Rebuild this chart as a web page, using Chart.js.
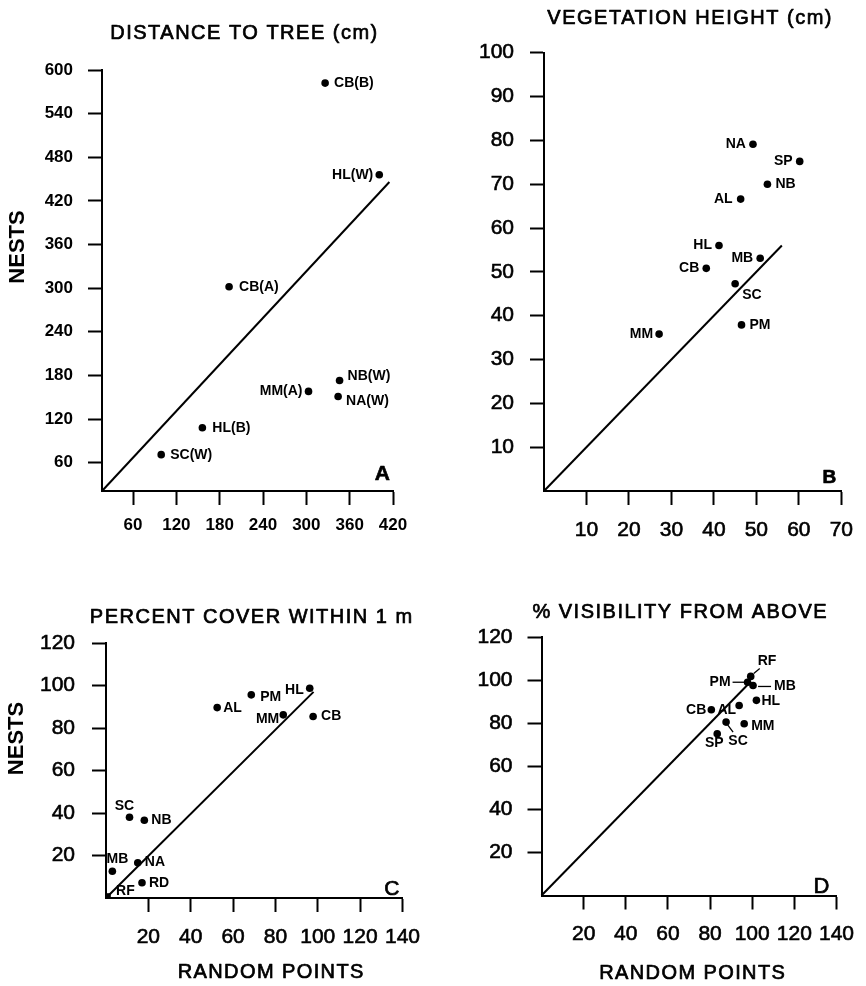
<!DOCTYPE html>
<html>
<head>
<meta charset="utf-8">
<script src="https://cdn.jsdelivr.net/npm/chart.js@4.4.1/dist/chart.umd.min.js"></script>
<style>
  body { margin: 0; background: #fff; }
  #wrap { position: relative; width: 866px; height: 986px; background: #fff; }
  canvas { position: absolute; }
</style>
</head>
<body>
<div id="wrap">
  <canvas id="chartA" width="433" height="560" style="left:0;top:0"></canvas>
  <canvas id="chartB" width="433" height="560" style="left:433px;top:0"></canvas>
  <canvas id="chartC" width="433" height="426" style="left:0;top:560px"></canvas>
  <canvas id="chartD" width="433" height="426" style="left:433px;top:560px"></canvas>
</div>
<script>
// ---- data ----
// A: distance to tree (cm)
var sitesA  = ['CB(B)', 'HL(W)', 'CB(A)', 'MM(A)', 'NB(W)', 'NA(W)', 'HL(B)', 'SC(W)'];
var randomA = [326, 401, 193, 303, 346, 344, 156, 99];
var nestsA  = [582, 456, 302, 158, 173, 151, 108, 71];
var lineAX  = [17, 415];
var lineAY  = [21, 446];
var ticksAX = [60, 120, 180, 240, 300, 360, 420];
var ticksAY = [60, 120, 180, 240, 300, 360, 420, 480, 540, 600];

// B: vegetation height (cm)
var sitesB  = ['NA', 'SP', 'NB', 'AL', 'HL', 'MB', 'CB', 'SC', 'PM', 'MM'];
var randomB = [49.2, 60.2, 52.6, 46.3, 41.2, 50.9, 38.2, 45.0, 46.5, 27.1];
var nestsB  = [79.1, 75.2, 70.0, 66.6, 56.0, 53.1, 50.8, 47.3, 37.9, 35.8];
var lineBX  = [0, 56];
var lineBY  = [0, 56];
var ticksBX = [10, 20, 30, 40, 50, 60, 70];
var ticksBY = [10, 20, 30, 40, 50, 60, 70, 80, 90, 100];

// C: percent cover within 1 m
var sitesC  = ['HL', 'PM', 'AL', 'MM', 'CB', 'SC', 'NB', 'MB', 'NA', 'RD', 'RF'];
var randomC = [96.2, 68.6, 52.5, 83.7, 97.8, 11.1, 18.1, 3.0, 15.0, 17.0, 1];
var nestsC  = [98.7, 95.6, 89.6, 86.2, 85.4, 38.0, 36.6, 12.6, 16.6, 7.2, 1];
var lineCX  = [0, 98];
var lineCY  = [0, 97];
var ticksCX = [20, 40, 60, 80, 100, 120, 140];
var ticksCY = [20, 40, 60, 80, 100, 120];

// D: % visibility from above
var sitesD  = ['RF', 'PM', 'MB', 'HL', 'AL', 'CB', 'SC', 'MM', 'SP'];
var randomD = [99.3, 97.8, 100.4, 102, 93.8, 80.6, 87.6, 96.2, 83.4];
var nestsD  = [101.7, 99.0, 97.5, 90.6, 88.2, 86.2, 80.5, 79.7, 75.1];
var lineDX  = [0, 99];
var lineDY  = [0, 99];
var ticksDX = [20, 40, 60, 80, 100, 120, 140];
var ticksDY = [20, 40, 60, 80, 100, 120];

// ---- label placement (offset from the point in px, text align) ----
var placeA = [[9,0,'left'],[-6,0,'right'],[10,0,'left'],[-6,0,'right'],[8,-4,'left'],[8,5,'left'],[10,0,'left'],[9,0,'left']];
var placeB = [[-7,0,'right'],[-7,0,'right'],[8,0,'left'],[-8,0,'right'],[-7,0,'right'],[-7,0,'right'],[-7,0,'right'],[7,11,'left'],[8,0,'left'],[-6,0,'right']];
var placeC = [[-6,2,'right'],[9,2,'left'],[6,1,'left'],[-4,4,'right'],[8,0,'left'],[-5,-11,'center'],[7,0,'left'],[5,-12,'center'],[7,-1,'left'],[7,0,'left'],[8,-5,'left']];
var placeD = [[7,-15,'left'],[-17,0,'right'],[21,1,'left'],[5,1,'left'],[-3,5,'right'],[-5,0,'right'],[12,19,'center'],[7,2,'left'],[-3,9,'center']];
var leadersD = [[3,-3,9,-8],[-15,0,-3,0],[5,1,18,1],null,null,null,[1,2,7,10],null,null];

var FAMILY = "'Liberation Sans', Arial, Helvetica, sans-serif";
Chart.defaults.font.family = FAMILY;
Chart.defaults.color = '#000';

// draws titles, axis names, panel letter and point labels
var panelText = {
  id: 'panelText',
  afterDatasetsDraw: function (chart, args, o) {
    var ctx = chart.ctx, a = chart.chartArea;
    var cx = (a.left + a.right) / 2, cy = (a.top + a.bottom) / 2;
    ctx.save();
    ctx.fillStyle = '#000';
    ctx.strokeStyle = '#000';
    ctx.lineJoin = 'round';

    // heavier print look: fill plus a thin stroke
    function heavy(t, x, y) {
      ctx.fillText(t, x, y);
      ctx.lineWidth = 0.7;
      ctx.strokeText(t, x, y);
    }

    ctx.textAlign = 'center';
    ctx.textBaseline = 'middle';
    ctx.font = '20px ' + FAMILY;
    ctx.letterSpacing = '1.5px';
    heavy(o.title, cx + o.titleDx, a.top + o.titleDy);

    if (o.xTitle) {
      ctx.letterSpacing = '1.4px';
      heavy(o.xTitle, cx + o.xTitleDx, a.bottom + o.xTitleDy);
    }
    ctx.letterSpacing = '0px';
    if (o.yTitle) {
      ctx.save();
      ctx.translate(a.left + o.yTitleDx, cy + o.yTitleDy);
      ctx.rotate(-Math.PI / 2);
      ctx.font = 'bold 22px ' + FAMILY;
      ctx.fillText(o.yTitle, 0, 0);
      ctx.restore();
    }

    ctx.textAlign = 'right';
    ctx.textBaseline = 'alphabetic';
    ctx.font = o.letterFont + ' ' + FAMILY;
    heavy(o.letter, a.right + o.letterDx, a.bottom + o.letterDy);

    var meta = chart.getDatasetMeta(0);
    ctx.font = 'bold 14px ' + FAMILY;
    ctx.textBaseline = 'middle';
    for (var i = 0; i < o.names.length; i++) {
      var p = meta.data[i], pl = o.place[i];
      ctx.textAlign = pl[2];
      ctx.fillText(o.names[i], p.x + pl[0], p.y + pl[1]);
      var ld = o.leaders ? o.leaders[i] : null;
      if (ld) {
        ctx.lineWidth = 1.3;
        ctx.beginPath();
        ctx.moveTo(p.x + ld[0], p.y + ld[1]);
        ctx.lineTo(p.x + ld[2], p.y + ld[3]);
        ctx.stroke();
      }
    }
    ctx.restore();
  }
};

function makeAxis(min, max, ticks, font, pad, size, isY, stroke) {
  return {
    type: 'linear',
    min: min,
    max: max,
    afterBuildTicks: function (s) { s.ticks = ticks.map(function (v) { return { value: v }; }); },
    afterFit: function (s) { if (isY) { s.width = size; } else { s.height = size; } },
    grid: { display: true, drawOnChartArea: false, drawTicks: true, tickLength: 14, tickWidth: 2, color: '#000' },
    border: { display: true, color: '#000', width: 2 },
    ticks: { font: font, padding: pad, color: '#000', maxRotation: 0, minRotation: 0, autoSkip: false,
      textStrokeColor: '#000', textStrokeWidth: stroke }
  };
}

function makePanel(id, p) {
  var pts = p.x.map(function (v, i) { return { x: v, y: p.y[i] }; });
  var line = p.lineX.map(function (v, i) { return { x: v, y: p.lineY[i] }; });
  return new Chart(document.getElementById(id), {
    type: 'scatter',
    data: {
      datasets: [{
        data: pts,
        pointRadius: 3.8,
        pointHoverRadius: 3.8,
        pointBackgroundColor: '#000',
        pointBorderWidth: 0,
        pointStyle: function (c) { return p.square.indexOf(p.names[c.dataIndex]) >= 0 ? 'rect' : 'circle'; },
        clip: false
      }, {
        data: line,
        showLine: true,
        borderColor: '#000',
        borderWidth: 2,
        pointRadius: 0,
        clip: false
      }]
    },
    options: {
      responsive: false,
      animation: false,
      events: [],
      layout: { padding: p.padding },
      scales: {
        x: makeAxis(p.xMin, p.xMax, p.xTicks, p.tickFont, p.xPad, 60, false, p.tickStroke),
        y: makeAxis(p.yMin, p.yMax, p.yTicks, p.tickFont, p.yPad, p.yWidth, true, p.tickStroke)
      },
      plugins: {
        legend: { display: false },
        tooltip: { enabled: false },
        panelText: p.text
      }
    },
    plugins: [panelText]
  });
}

makePanel('chartA', {
  names: sitesA, x: randomA, y: nestsA, lineX: lineAX, lineY: lineAY, square: [],
  xMin: 17, xMax: 420, yMin: 21, yMax: 600, xTicks: ticksAX, yTicks: ticksAY,
  tickFont: { size: 17, weight: 'bold' }, tickStroke: 0, xPad: 10, yPad: 15, yWidth: 102,
  padding: { left: 0, right: 40, top: 70, bottom: 9 },
  text: { names: sitesA, place: placeA, title: 'DISTANCE TO TREE (cm)', titleDx: -3, titleDy: -36.5,
    yTitle: 'NESTS', yTitleDx: -84, yTitleDy: -33.5,
    letter: 'A', letterFont: 'bold 21px', letterDx: -3, letterDy: -11 }
});

makePanel('chartB', {
  names: sitesB, x: randomB, y: nestsB, lineX: lineBX, lineY: lineBY, square: [],
  xMin: 0, xMax: 70, yMin: 0, yMax: 100, xTicks: ticksBX, yTicks: ticksBY,
  tickFont: { size: 21 }, tickStroke: 0.6, xPad: 13, yPad: 16, yWidth: 111,
  padding: { left: 0, right: 21, top: 52.7, bottom: 9 },
  text: { names: sitesB, place: placeB, title: 'VEGETATION HEIGHT (cm)', titleDx: -2.5, titleDy: -34.7,
    letter: 'B', letterFont: 'bold 19px', letterDx: -5, letterDy: -8 }
});

makePanel('chartC', {
  names: sitesC, x: randomC, y: nestsC, lineX: lineCX, lineY: lineCY, square: ['RF'],
  xMin: 0, xMax: 140, yMin: 0, yMax: 120, xTicks: ticksCX, yTicks: ticksCY,
  tickFont: { size: 21 }, tickStroke: 0.6, xPad: 13, yPad: 17, yWidth: 106,
  padding: { left: 0, right: 28, top: 83, bottom: 28 },
  text: { names: sitesC, place: placeC, title: 'PERCENT COVER WITHIN 1 m', titleDx: -2.5, titleDy: -26,
    yTitle: 'NESTS', yTitleDx: -89.3, yTitleDy: -32,
    xTitle: 'RANDOM POINTS', xTitleDx: 17, xTitleDy: 74,
    letter: 'C', letterFont: '21px', letterDx: -3, letterDy: -3 }
});

makePanel('chartD', {
  names: sitesD, x: randomD, y: nestsD, lineX: lineDX, lineY: lineDY, square: [],
  xMin: 0, xMax: 140, yMin: 0, yMax: 120, xTicks: ticksDX, yTicks: ticksDY,
  tickFont: { size: 21 }, tickStroke: 0.6, xPad: 12, yPad: 15, yWidth: 108.5,
  padding: { left: 0, right: 24, top: 77, bottom: 30.5 },
  text: { names: sitesD, place: placeD, leaders: leadersD, title: '% VISIBILITY FROM ABOVE', titleDx: -8.75, titleDy: -25,
    xTitle: 'RANDOM POINTS', xTitleDx: 3.75, xTitleDy: 78,
    letter: 'D', letterFont: '22px', letterDx: -7, letterDy: -2.5 }
});
</script>
</body>
</html>
